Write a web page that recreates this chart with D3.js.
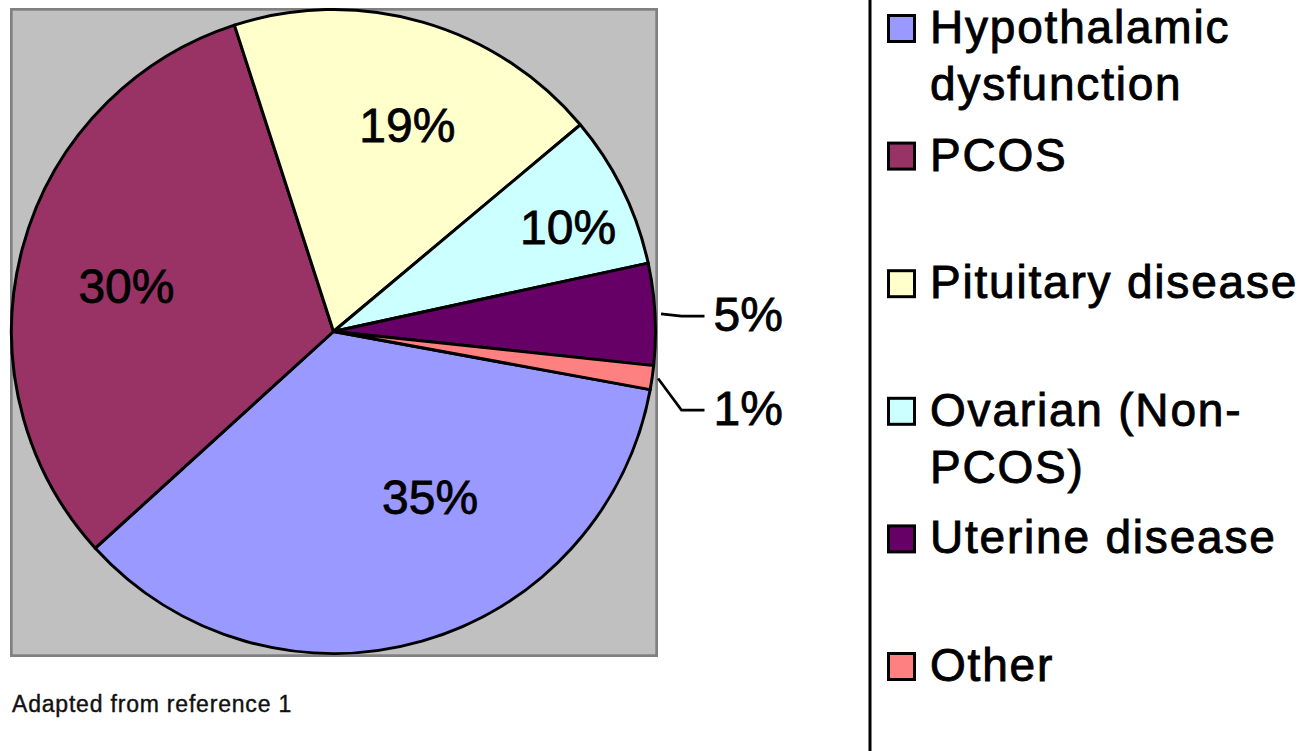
<!DOCTYPE html>
<html>
<head>
<meta charset="utf-8">
<script src="https://cdn.jsdelivr.net/npm/d3@7"></script>
<style>
  html, body { margin: 0; padding: 0; background: #fff; }
  svg { display: block; font-family: "Liberation Sans", Arial, sans-serif; }
</style>
</head>
<body>
<svg id="chart" width="1305" height="751"></svg>
<script>
const categories = [
  "Hypothalamic dysfunction",
  "PCOS",
  "Pituitary disease",
  "Ovarian (Non-PCOS)",
  "Uterine disease",
  "Other"
];
const shares = [35.4, 31.8, 18.9, 7.7, 5.1, 1.2];
const percentLabels = ["35%", "30%", "19%", "10%", "5%", "1%"];
const colors = ["#9999ff", "#993366", "#ffffcc", "#ccffff", "#660066", "#ff8080"];
const sourceNote = "Adapted from reference 1";

(function() {
  const svg = d3.select("#chart");
  const rad = deg => (deg * Math.PI) / 180;

  //// Plot area
  const plot = { x0: 10, y0: 8, x1: 658, y1: 657, border: 2.7 };
  svg
    .append("rect")
    .attr("x", plot.x0 + plot.border / 2)
    .attr("y", plot.y0 + plot.border / 2)
    .attr("width", plot.x1 - plot.x0 - plot.border)
    .attr("height", plot.y1 - plot.y0 - plot.border)
    .attr("fill", "#c0c0c0")
    .attr("stroke", "#808080")
    .attr("stroke-width", plot.border);

  //// Pie
  const cx = 333.5;
  const cy = 331.5;
  const radius = 322;
  const startDeg = 100.4;

  const pie = d3
    .pie()
    .sort(null)
    .value(d => d.value)
    .startAngle(rad(startDeg))
    .endAngle(rad(startDeg + 360));
  const arc = d3.arc().innerRadius(0).outerRadius(radius);

  const slices = pie(
    categories.map((c, i) => ({
      name: c,
      value: shares[i],
      label: percentLabels[i],
      color: colors[i]
    }))
  );

  const g = svg.append("g").attr("transform", `translate(${cx},${cy})`);
  g.selectAll("path")
    .data(slices)
    .join("path")
    .attr("d", arc)
    .attr("fill", d => d.data.color)
    .attr("stroke", "#000")
    .attr("stroke-width", 3)
    .attr("stroke-linejoin", "round");

  const polar = (r, a) => [r * Math.sin(a), -r * Math.cos(a)];
  const mid = d => (d.startAngle + d.endAngle) / 2;

  // Inside labels (Excel nudges them off the exact bisector)
  const insideTweak = [
    { da: -14.25, r: 0.596 },
    { da: -2.65, r: 0.658 },
    { da: 3.65, r: 0.68 },
    { da: 2.15, r: 0.797 }
  ];
  const inside = slices.filter(d => d.data.value >= 6);
  const outside = slices.filter(d => d.data.value < 6);

  g.selectAll(".in-label")
    .data(inside)
    .join("text")
    .attr("class", "in-label")
    .attr("transform", (d, i) => {
      const t = insideTweak[i];
      const [x, y] = polar(radius * t.r, mid(d) + rad(t.da));
      return `translate(${x},${y})`;
    })
    .attr("text-anchor", "middle")
    .attr("dy", "0.35em")
    .attr("font-size", 48)
    .attr("fill", "#000")
    .attr("stroke", "#000")
    .attr("stroke-width", 0.8)
    .text(d => d.data.label);

  // Outside labels with leader lines
  const labelX = radius + 58;
  let prevY = -Infinity;
  outside.forEach(d => {
    const a = mid(d);
    let ly = polar(radius, a)[1];
    if (ly < prevY + 94) ly = prevY + 94;
    prevY = ly;
    const p0 = polar(radius + 6, a);
    g.append("path")
      .attr(
        "d",
        d3.line()([p0, [labelX - 32, ly + 2], [labelX - 9, ly + 2]])
      )
      .attr("fill", "none")
      .attr("stroke", "#000")
      .attr("stroke-width", 2.7);
    g.append("text")
      .attr("x", labelX)
      .attr("y", ly)
      .attr("dy", "0.35em")
      .attr("font-size", 48)
      .attr("fill", "#000")
      .attr("stroke", "#000")
      .attr("stroke-width", 0.8)
      .text(d.data.label);
  });

  //// Source note
  svg
    .append("text")
    .attr("x", 12)
    .attr("y", 711.5)
    .attr("font-size", 23)
    .attr("letter-spacing", 0.8)
    .attr("fill", "#111")
    .attr("stroke", "#111")
    .attr("stroke-width", 0.4)
    .text(sourceNote);

  //// Legend
  svg
    .append("line")
    .attr("x1", 870)
    .attr("x2", 870)
    .attr("y1", 0)
    .attr("y2", 751)
    .attr("stroke", "#000")
    .attr("stroke-width", 3);

  const legend = { x: 887, textX: 930, base0: 43, step: 127.6, box: 29, lineH: 57, maxW: 372 };

  const items = svg
    .append("g")
    .selectAll("g")
    .data(slices.map(d => d.data))
    .join("g")
    .attr("transform", (d, i) => `translate(0,${legend.base0 + i * legend.step})`);

  items
    .append("rect")
    .attr("x", legend.x + 1.5)
    .attr("y", -legend.box + 1.5)
    .attr("width", legend.box - 3)
    .attr("height", legend.box - 3)
    .attr("fill", d => d.color)
    .attr("stroke", "#000")
    .attr("stroke-width", 3);

  items.each(function(d) {
    const text = d3
      .select(this)
      .append("text")
      .attr("x", legend.textX)
      .attr("y", 0)
      .attr("font-size", 46)
      .attr("letter-spacing", 1.8)
      .attr("fill", "#000")
      .attr("stroke", "#000")
      .attr("stroke-width", 0.9);
    // wrap at spaces and after hyphens
    const tokens = d.name.split(/(?<=[ -])/);
    const probe = text.append("tspan");
    const lines = [];
    let line = "";
    tokens.forEach(tok => {
      probe.text((line + tok).trim());
      if (line && probe.node().getComputedTextLength() > legend.maxW) {
        lines.push(line.trim());
        line = tok;
      } else {
        line += tok;
      }
    });
    lines.push(line.trim());
    probe.remove();
    text
      .selectAll("tspan")
      .data(lines)
      .join("tspan")
      .attr("x", legend.textX)
      .attr("y", (l, i) => i * legend.lineH)
      .text(l => l);
  });
})();
</script>
</body>
</html>
